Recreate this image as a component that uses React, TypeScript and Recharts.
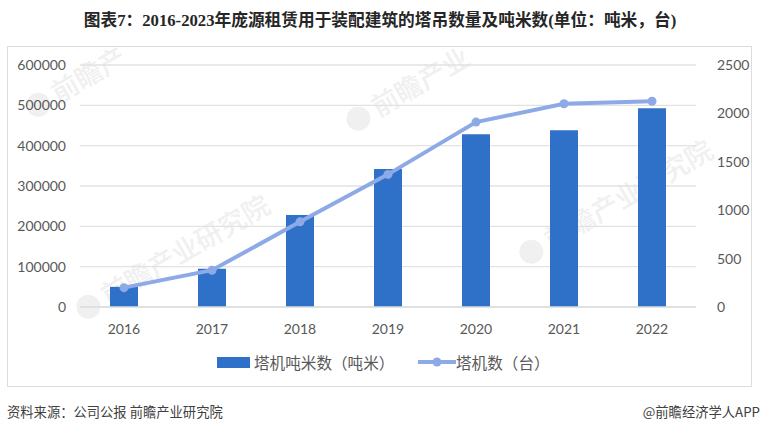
import { Bar, CartesianGrid, ComposedChart, Legend, Line, XAxis, YAxis } from "recharts";

const years = ["2016", "2017", "2018", "2019", "2020", "2021", "2022"];
const tonMeters = [50000, 95000, 228000, 342000, 428000, 438000, 493000];
const craneCounts = [200, 380, 880, 1370, 1910, 2100, 2125];
const leftTicks = [0, 100000, 200000, 300000, 400000, 500000, 600000];
const rightTicks = [0, 500, 1000, 1500, 2000, 2500];

const data = years.map((year, i) => ({ year, tonMeters: tonMeters[i], craneCounts: craneCounts[i] }));

// faint logo + brand stamps behind the plot, in page coordinates
const stamps = [
  { x: 27, y: 92, text: "前瞻产" },
  { x: 347, y: 106, text: "前瞻产业" },
  { x: 77, y: 294, text: "前瞻产业研究院" },
  { x: 520, y: 239, text: "前瞻产业研究院" },
];

const TICK = { fill: "#595959", fontSize: 14, fontFamily: "Lato, sans-serif" };
const BLUE = "#2f71c8";
const LIGHT = "#8eaae6";

function Stamp(props: { x: number; y: number; text: string }) {
  return (
    <div
      style={{
        position: "absolute",
        left: props.x,
        top: props.y,
        whiteSpace: "nowrap",
        transform: "rotate(-30deg)",
        transformOrigin: "0 50%",
        color: "#f0f0f0",
        fontSize: 27,
        lineHeight: "34px",
        fontWeight: 500,
        fontFamily: "'Noto Sans CJK SC', sans-serif",
      }}
    >
      <span style={{ display: "inline-block", width: 24, height: 24, borderRadius: 12, background: "#f0f0f0", marginRight: 6, verticalAlign: -3 }} />
      {props.text}
    </div>
  );
}

function ChartLegend() {
  const label = { fontSize: 15.6, color: "#595959", fontFamily: "'Noto Sans CJK SC', sans-serif", lineHeight: "20px" };
  return (
    <div style={{ position: "relative", height: 20 }}>
      <div style={{ position: "absolute", left: 217, top: 5, width: 33, height: 11, background: BLUE }} />
      <div style={{ position: "absolute", left: 254, top: 0, whiteSpace: "nowrap", ...label }}>塔机吨米数（吨米）</div>
      <svg style={{ position: "absolute", left: 418, top: 0 }} width={38} height={20}>
        <line x1={0} y1={10} x2={38} y2={10} stroke={LIGHT} strokeWidth={4} />
        <circle cx={19} cy={10} r={4.5} fill={LIGHT} />
      </svg>
      <div style={{ position: "absolute", left: 456, top: 0, whiteSpace: "nowrap", ...label }}>塔机数（台）</div>
    </div>
  );
}

export default function App() {
  return (
    <div style={{ position: "absolute", left: 0, top: 0, width: 760, height: 433, background: "#fff", overflow: "hidden" }}>
      <div
        style={{
          position: "absolute",
          left: 0,
          top: 10,
          width: 760,
          textAlign: "center",
          fontSize: 16.7,
          lineHeight: "22px",
          fontWeight: 700,
          color: "#262626",
          fontFamily: "'Liberation Serif', 'Noto Sans CJK SC', serif",
        }}
      >
        图表7：2016-2023年庞源租赁用于装配建筑的塔吊数量及吨米数(单位：吨米，台)
      </div>
      <div style={{ position: "absolute", left: 7, top: 46, width: 745, height: 341, border: "1px solid #dcdcdc", boxSizing: "border-box" }} />
      {stamps.map((s) => (
        <Stamp key={s.x} x={s.x} y={s.y} text={s.text} />
      ))}
      <ComposedChart
        width={760}
        height={433}
        data={data}
        margin={{ top: 65, right: 0, bottom: 76, left: 16 }}
        barCategoryGap="34%"
        style={{ position: "absolute", left: 0, top: 0 }}
      >
        <CartesianGrid vertical={false} stroke="#e2e2e2" strokeWidth={1.3} yAxisId="left" />
        <XAxis
          dataKey="year"
          axisLine={{ stroke: "#dedede", strokeWidth: 1.5 }}
          tickLine={false}
          tick={TICK}
          tickMargin={11}
        />
        <YAxis
          yAxisId="left"
          width={64}
          orientation="left"
          domain={[0, 600000]}
          ticks={leftTicks}
          axisLine={false}
          tickLine={false}
          tick={TICK}
          tickMargin={8}
          interval={0}
        />
        <YAxis
          yAxisId="right"
          width={64}
          orientation="right"
          domain={[0, 2500]}
          ticks={rightTicks}
          axisLine={false}
          tickLine={false}
          tick={TICK}
          tickMargin={15}
          interval={0}
        />
        <Bar yAxisId="left" dataKey="tonMeters" fill={BLUE} barSize={28} isAnimationActive={false} />
        <Line
          yAxisId="right"
          dataKey="craneCounts"
          type="linear"
          stroke={LIGHT}
          strokeWidth={4}
          dot={{ r: 4.5, fill: LIGHT, stroke: LIGHT, strokeWidth: 0 }}
          isAnimationActive={false}
        />
        <Legend
          content={<ChartLegend />}
          wrapperStyle={{ position: "absolute", left: 0, top: 352, width: 760, height: 20, margin: 0 }}
        />
      </ComposedChart>
      <div style={{ position: "absolute", left: 7, top: 403, fontSize: 13.3, lineHeight: "18px", color: "#404040", fontFamily: "'Noto Sans CJK SC', sans-serif" }}>
        资料来源：公司公报 前瞻产业研究院
      </div>
      <div style={{ position: "absolute", right: 0, top: 403, fontSize: 13.3, lineHeight: "18px", color: "#404040", fontFamily: "'Noto Sans CJK SC', sans-serif" }}>
        @前瞻经济学人APP
      </div>
    </div>
  );
}
